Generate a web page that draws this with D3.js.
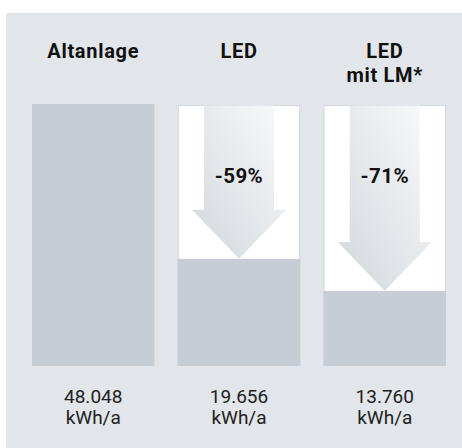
<!DOCTYPE html>
<html><head><meta charset="utf-8">
<script src="https://cdn.jsdelivr.net/npm/d3@7"></script>
<style>html,body{margin:0;padding:0;background:#fff;}svg{display:block;}</style>
</head><body>
<script>
const categories = ["Altanlage", "LED", "LED|mit LM*"];
const values = [48048, 19656, 13760];
const valueLabels = ["48.048", "19.656", "13.760"];
const unitLabel = "kWh/a";
const savingLabels = ["", "-59%", "-71%"];

const W = 462, H = 448;
const svg = d3.select("body").append("svg").attr("width", W).attr("height", H);
const font = "Roboto, 'Liberation Sans', sans-serif";

const defs = svg.append("defs");
const grad = defs.append("linearGradient").attr("id", "arrowGrad")
  .attr("x1", 1).attr("y1", 0).attr("x2", 0).attr("y2", 1);
grad.append("stop").attr("offset", 0).attr("stop-color", "#f9fafb");
grad.append("stop").attr("offset", 1).attr("stop-color", "#d2d7dd");

svg.append("rect").attr("x", 6).attr("y", 13).attr("width", W - 6).attr("height", H - 13).attr("fill", "#e2e5e9");

const x = d3.scaleBand().domain(categories).range([32, 446]).paddingInner(0.16).paddingOuter(0);
const y = d3.scaleLinear().domain([0, d3.max(values)]).range([366, 104]);

const g = svg.append("g");
categories.forEach((c, i) => {
  const x0 = x(c), bw = x.bandwidth(), cx = x0 + bw / 2;
  if (i > 0) {
    g.append("rect").attr("x", x0 + 0.5).attr("y", y(values[0]) + 1.5).attr("width", bw - 1).attr("height", y(0) - y(values[0]) - 2)
      .attr("fill", "#ffffff").attr("stroke", "#d3d8de").attr("stroke-width", 1);
    const tip = y(values[i]);
    const top = y(values[0]) + 1.5;
    const headH = 49, headHalf = 47, shaftHalf = 35;
    const pts = [[cx - shaftHalf, top], [cx + shaftHalf, top], [cx + shaftHalf, tip - headH], [cx + headHalf, tip - headH],
      [cx, tip], [cx - headHalf, tip - headH], [cx - shaftHalf, tip - headH]];
    g.append("path").attr("d", d3.line()(pts) + "Z").attr("fill", "url(#arrowGrad)");
    g.append("text").attr("x", cx).attr("y", 183).attr("text-anchor", "middle")
      .attr("font-family", font).attr("font-weight", 700).attr("font-size", 20.5).attr("fill", "#111")
      .attr("letter-spacing", 0.4).text(savingLabels[i]);
  }
  g.append("rect").attr("x", x0).attr("y", y(values[i])).attr("width", bw).attr("height", y(0) - y(values[i]))
    .attr("fill", "#c6cdd5");

  const lines = c.split("|");
  lines.forEach((ln, k) => {
    g.append("text").attr("x", cx).attr("y", 58 + k * 24).attr("text-anchor", "middle")
      .attr("font-family", font).attr("font-weight", 700).attr("font-size", 20).attr("fill", "#111")
      .attr("letter-spacing", 0.7).text(ln);
  });
  g.append("text").attr("x", cx).attr("y", 403).attr("text-anchor", "middle")
    .attr("font-family", font).attr("font-weight", 400).attr("font-size", 19).attr("fill", "#222").text(valueLabels[i]);
  g.append("text").attr("x", cx).attr("y", 424).attr("text-anchor", "middle")
    .attr("font-family", font).attr("font-weight", 400).attr("font-size", 19).attr("fill", "#222").text(unitLabel);
});
</script>
</body></html>
